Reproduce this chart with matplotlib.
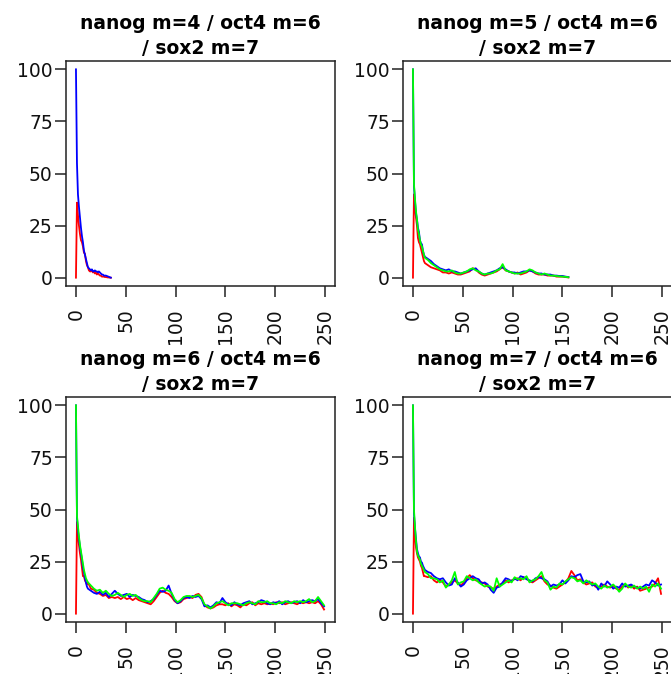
#!/usr/bin/env python3
import matplotlib
matplotlib.use("Agg")
import matplotlib.pyplot as plt

# x positions (steps) for each panel
x_p1 = list(range(0, 36))
x_p2 = list(range(0, 13)) + list(range(15, 157, 3))
x_long = list(range(0, 13)) + list(range(15, 250, 3))

titles = ["nanog m=4 / oct4 m=6\n/ sox2 m=7",
          "nanog m=5 / oct4 m=6\n/ sox2 m=7",
          "nanog m=6 / oct4 m=6\n/ sox2 m=7",
          "nanog m=7 / oct4 m=6\n/ sox2 m=7"]

# panel 1 (nanog m=4)
p1_red = [0, 36, 30, 25, 21, 18, 17, 15, 12, 11.5, 8, 6, 5, 3.5, 3, 3, 3.5, 2.5,
          3, 2, 2.5, 1.5, 2, 1.5, 1, 1, 0.5, 0.5, 0.5, 0.3, 0.3, 0.2, 0.1, 0.1, 0, 0]
p1_blue = [100, 55, 40, 34, 29, 24, 20, 17, 13, 11, 9, 7, 5, 4.5, 4, 3.5, 4, 3,
           3, 3.5, 3, 3, 2.5, 3, 2.5, 2, 1.5, 1.5, 1, 1, 1, 0.8, 0.6, 0.4, 0.2, 0]

# panel 2 (nanog m=5)
p2_red = [0, 40, 34, 29, 25, 19, 17, 16, 14, 12, 10, 8, 7,
          6, 5, 4.5, 4, 3.5, 2.5, 2.5, 2, 2.5, 2, 1.5, 1.5, 2, 2.5, 3, 4.5,
          4, 2.5, 1.5, 1, 1.5, 2, 2.5, 3, 4, 5, 3.5, 3, 2.5, 2, 2.5, 1.5,
          2, 2.5, 3.5, 3, 2, 1.5, 1.5, 1.5, 1, 1, 1, 0.5, 0.5, 0.5, 0.3, 0.1]
p2_blue = [100, 44, 37, 31, 28, 24, 22, 18, 16.5, 16, 13, 11, 10,
           9, 8, 6.5, 5.5, 4.5, 4, 3.5, 4, 3, 3, 2.5, 2, 2.5, 3, 3.5, 4,
           4.5, 3, 2, 1.5, 2, 2.5, 3, 3.5, 4.5, 5, 4, 3, 2.5, 2.5, 2, 2.5,
           3, 3, 3.5, 3, 2.5, 2, 2, 1.5, 1.5, 1.5, 1, 1, 0.8, 0.8, 0.5, 0.3]
p2_green = [100, 45, 38, 32, 28, 23, 21, 18, 16, 15, 13, 11, 9.5,
            8.5, 7, 6, 5, 4, 3.5, 3, 3, 3.5, 2.5, 2, 2, 2.5, 3, 4, 4.5,
            3.5, 3, 2, 1.5, 2, 2, 2.5, 3.5, 4, 6.5, 3.5, 3, 2.5, 2, 2, 2,
            2.5, 3, 4, 3.5, 2.5, 2, 1.5, 2, 1.5, 1, 1, 0.8, 0.6, 0.5, 0.4, 0.2]

# panel 3 (nanog m=6)
p3_red = [0, 44, 38, 33, 29, 26, 22, 18, 18, 16, 15, 14, 15,
          12, 11.5, 10, 9.5, 8.5, 9, 7.5, 8, 7.5, 8, 7, 8, 7, 7.5, 6.5, 7.5,
          6.5, 6, 5.5, 5, 4.5, 6, 8, 10, 11, 10, 9.5, 8, 6, 5, 5.5, 7,
          7.5, 8, 7.5, 9, 9.5, 8, 4, 3, 2.5, 3, 4, 4.5, 4.5, 4, 5, 3.5,
          4.5, 4, 3, 4.5, 4, 5, 5.5, 4, 5, 4.5, 5, 4.5, 5, 4.5, 5.5, 5,
          5.5, 4.5, 5, 5.5, 5, 4.5, 5.5, 5, 5.5, 5, 5.5, 5, 6, 4.5, 2]
p3_blue = [100, 46, 40, 36, 32, 29, 26, 22, 20, 17, 15, 13, 12,
           11, 10, 9.5, 10.5, 9, 10, 8, 9.5, 11, 9.5, 8.5, 9, 9.5, 8, 9, 8.5,
           8, 7, 6.5, 5.5, 6, 7, 9, 11, 10.5, 11, 13.5, 9.5, 6.5, 5, 6, 7.5,
           8, 7.5, 8.5, 8, 8.5, 7, 3.5, 4, 3, 4, 5.5, 5, 7.5, 5.5, 4.5, 4,
           5.5, 4.5, 4, 5, 5.5, 6, 4.5, 5, 5.5, 6.5, 6, 5, 4.5, 5.5, 5, 6,
           4.5, 5.5, 6, 5, 5.5, 6, 5, 6.5, 5.5, 6, 6.5, 6, 7, 5, 3.5]
p3_green = [100, 47, 42, 37, 33, 30, 27, 24, 21, 19, 17, 16, 15,
            13.5, 12, 11, 11.5, 10, 11, 9.5, 8.5, 9, 10, 9, 8, 9, 9.5, 8.5, 9,
            7.5, 6.5, 6, 6, 5.5, 7.5, 9.5, 12, 12.5, 11.5, 11, 10, 7, 5.5, 6.5, 8,
            8.5, 8.5, 8, 8.5, 9, 7.5, 4.5, 3.5, 2.5, 3.5, 5, 5.5, 6, 5, 4, 5,
            5, 5, 4.5, 4, 5, 5.5, 5, 4.5, 6, 5.5, 5.5, 6, 5, 5, 4.5, 5.5,
            5, 6, 5.5, 5, 6, 5.5, 6, 5.5, 6, 7, 5.5, 6, 8, 6, 4]

# panel 4 (nanog m=7)
p4_red = [0, 46, 38, 32, 29, 27, 26, 25, 23, 22, 20, 18, 18,
          17.5, 18, 16, 15, 16, 15, 13, 14, 15, 16, 14.5, 13.5, 15, 17, 18.5, 17,
          16, 15.5, 15, 14.5, 13, 12.5, 12, 13, 14, 14.5, 16, 15, 16, 16.5, 17, 16,
          17.5, 17, 15.5, 15, 16, 17, 18, 15.5, 14, 13.5, 12.5, 12, 13, 14, 15, 17,
          20.5, 18.5, 16, 16.5, 15, 14, 14.5, 15, 13, 12.5, 13, 14, 13, 12.5, 13.5, 12,
          11.5, 13, 14, 12.5, 13.5, 12, 13, 11, 11.5, 12, 12.5, 13, 14.5, 17, 9.5]
p4_blue = [100, 48, 41, 36, 31, 29, 27.5, 27, 25, 24.5, 23, 22, 21,
           20, 19.5, 18, 17, 16.5, 17, 15, 13.5, 14, 17, 15, 13, 14, 16, 17, 18,
           17, 16.5, 14.5, 15, 14, 11.5, 10, 12.5, 13, 15, 17, 16.5, 15.5, 17, 16, 18,
           17.5, 16.5, 16, 15.5, 17, 17.5, 17, 16.5, 15.5, 13, 14, 13.5, 14, 16, 14.5, 16,
           18, 17.5, 18.5, 19, 15.5, 15, 15.5, 13.5, 14, 11.5, 14.5, 13, 15.5, 14, 12, 13,
           12.5, 14.5, 13, 13.5, 14, 13, 12.5, 12, 13, 14, 13.5, 16, 15, 13.5, 14]
p4_green = [100, 50, 42, 35, 30, 28, 27, 26, 24, 23, 22, 21, 20,
            19, 17, 17, 16.5, 15, 16, 12.5, 14, 16, 20, 14, 15, 15.5, 18, 17, 16,
            16.5, 15, 14, 13, 13.5, 13, 11, 17, 13, 14, 15, 16, 15, 17.5, 16.5, 17,
            16.5, 18, 15, 16, 16.5, 18, 20, 16, 15, 11.5, 13, 12.5, 14.5, 14, 15.5, 16.5,
            17.5, 17, 15.5, 16, 14.5, 16, 15, 14, 14.5, 13, 12, 13.5, 12.5, 13, 14, 12.5,
            10.5, 12, 14.5, 13, 12.5, 13.5, 12, 13, 12, 13, 10.5, 14, 13, 14.5, 12]

colors = ["#ff0000", "#0000ff", "#00ff00"]


def style_axis(ax):
    ax.set_xlim(-10, 260)
    ax.set_ylim(-4, 104)
    ax.set_xticks([0, 50, 100, 150, 200, 250])
    ax.set_yticks([0, 25, 50, 75, 100])
    for s in ax.spines.values():
        s.set_linewidth(1.1)
        s.set_color("#222222")
    ax.tick_params(axis="both", direction="out", length=8, width=1.1,
                   color="#222222", labelsize=13.5, labelcolor="#111111")
    ax.tick_params(axis="y", pad=1.5)
    ax.tick_params(axis="x", pad=8, labelrotation=90)


def main():
    plt.rcParams["font.family"] = ["DejaVu Sans"]
    fig = plt.figure(figsize=(6.71, 6.74), dpi=100)

    w = 269 / 671
    h = 225 / 674
    positions = [(66 / 671, 1 - 286 / 674), (403 / 671, 1 - 286 / 674),
                 (66 / 671, 1 - 622 / 674), (403 / 671, 1 - 622 / 674)]

    panels = [
        (x_p1, [p1_red, p1_blue]),
        (x_p2, [p2_red, p2_blue, p2_green]),
        (x_long, [p3_red, p3_blue, p3_green]),
        (x_long, [p4_red, p4_blue, p4_green]),
    ]

    for i, (xs, series) in enumerate(panels):
        ax = fig.add_axes([positions[i][0], positions[i][1], w, h])
        for j, ys in enumerate(series):
            ax.plot(xs, ys, color=colors[j], lw=1.3)
        style_axis(ax)
        ax.set_title(titles[i], fontsize=13.5, fontweight="heavy",
                     linespacing=1.4, pad=5)

    fig.savefig("out.png", dpi=100)


if __name__ == "__main__":
    main()
